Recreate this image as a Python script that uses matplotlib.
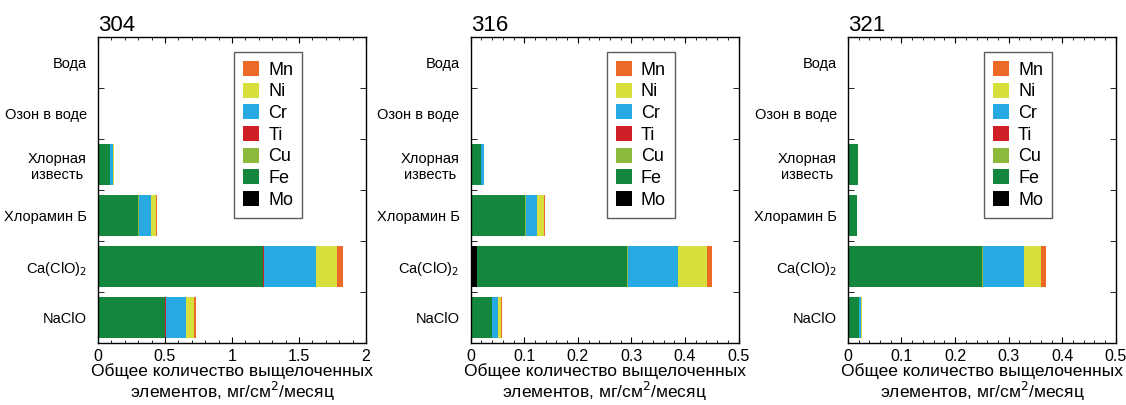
import matplotlib
matplotlib.use("Agg")
import matplotlib.pyplot as plt
import matplotlib.ticker as ticker
import numpy as np

plt.rcParams["font.family"] = ["Liberation Sans", "DejaVu Sans"]

categories = ["Вода", "Озон в воде", "Хлорная\nизвесть", "Хлорамин Б",
              "Ca(ClO)$_2$", "NaClO"]
elements = ["Mo", "Fe", "Cu", "Ti", "Cr", "Ni", "Mn"]
colors = {
    "Mo": "#000000",
    "Fe": "#13873c",
    "Cu": "#8cba3a",
    "Ti": "#d01f27",
    "Cr": "#27aae1",
    "Ni": "#d6df3c",
    "Mn": "#ec6a26",
}
legend_order = ["Mn", "Ni", "Cr", "Ti", "Cu", "Fe", "Mo"]

# values per category (same order as categories), mg/cm2/month
steel_304 = {
    "Mo": [0, 0, 0, 0, 0, 0],
    "Fe": [0, 0, 0.09, 0.30, 1.23, 0.50],
    "Cu": [0, 0, 0.002, 0.003, 0.004, 0.003],
    "Ti": [0, 0, 0, 0.002, 0.003, 0.002],
    "Cr": [0, 0, 0.02, 0.09, 0.39, 0.15],
    "Ni": [0, 0, 0.008, 0.035, 0.16, 0.06],
    "Mn": [0, 0, 0.002, 0.01, 0.04, 0.015],
}
steel_316 = {
    "Mo": [0, 0, 0, 0, 0.012, 0],
    "Fe": [0, 0, 0.019, 0.102, 0.280, 0.040],
    "Cu": [0, 0, 0, 0.0005, 0.001, 0.0005],
    "Ti": [0, 0, 0, 0.0005, 0.001, 0],
    "Cr": [0, 0, 0.005, 0.020, 0.092, 0.010],
    "Ni": [0, 0, 0.001, 0.013, 0.055, 0.007],
    "Mn": [0, 0, 0, 0.003, 0.009, 0.001],
}
steel_321 = {
    "Mo": [0, 0, 0, 0, 0, 0],
    "Fe": [0, 0, 0.018, 0.017, 0.251, 0.020],
    "Cu": [0, 0, 0, 0, 0.001, 0],
    "Ti": [0, 0, 0, 0, 0.001, 0],
    "Cr": [0, 0, 0, 0, 0.075, 0.004],
    "Ni": [0, 0, 0, 0, 0.033, 0.002],
    "Mn": [0, 0, 0, 0, 0.009, 0.001],
}

panels = [
    ("304", steel_304, 2.0, 0.5, ["0", "0.5", "1", "1.5", "2"]),
    ("316", steel_316, 0.5, 0.1, ["0", "0.1", "0.2", "0.3", "0.4", "0.5"]),
    ("321", steel_321, 0.5, 0.1, ["0", "0.1", "0.2", "0.3", "0.4", "0.5"]),
]
lefts = [0.087, 0.418, 0.753]

fig = plt.figure(figsize=(11.26, 4.05), dpi=100)

for left, (title, data, xmax, step, xlabels) in zip(lefts, panels):
    ax = fig.add_axes([left, 0.153, 0.238, 0.756])
    y = np.arange(len(categories))
    base = np.zeros(len(categories))
    handles = {}
    for el in elements:
        vals = np.array(data[el], dtype=float)
        h = ax.barh(y, vals, left=base, height=0.8, color=colors[el],
                    edgecolor="none", label=el)
        handles[el] = h
        base += vals

    ax.set_ylim(len(categories) - 0.5, -0.5)
    ax.set_xlim(0, xmax)
    ax.set_yticks(y)
    ax.set_yticklabels(categories, fontsize=10.5, multialignment="center")
    ax.set_yticks(np.arange(0.5, len(categories) - 0.5, 1), minor=True)
    ax.tick_params(axis="y", which="major", length=0, pad=8)
    ax.tick_params(axis="y", which="minor", direction="in", length=4,
                   left=True, right=True)

    ticks = np.arange(0, xmax + step / 2, step)
    ax.set_xticks(ticks)
    ax.set_xticklabels(xlabels, fontsize=11.5)
    ax.xaxis.set_minor_locator(ticker.AutoMinorLocator(5))
    ax.tick_params(axis="x", which="both", direction="in", top=True,
                   bottom=True)
    ax.tick_params(axis="x", which="major", length=4, pad=4)
    ax.tick_params(axis="x", which="minor", length=2.5)

    for sp in ax.spines.values():
        sp.set_linewidth(1.0)

    ax.set_xlabel("Общее количество выщелоченных\nэлементов, мг/см$^2$/месяц",
                  fontsize=12.5, labelpad=0, linespacing=1.0)
    ax.set_title(title, loc="left", fontsize=16, pad=4)

    leg = ax.legend([handles[e] for e in legend_order], legend_order,
                    loc="upper left", bbox_to_anchor=(0.507, 0.951),
                    borderaxespad=0, fontsize=13, frameon=True,
                    fancybox=False, handlelength=0.9, handleheight=0.9,
                    handletextpad=0.5, labelspacing=0.22, borderpad=0.5)
    leg.get_frame().set_edgecolor("#333333")
    leg.get_frame().set_linewidth(1.0)

fig.savefig("out.png", dpi=100)
